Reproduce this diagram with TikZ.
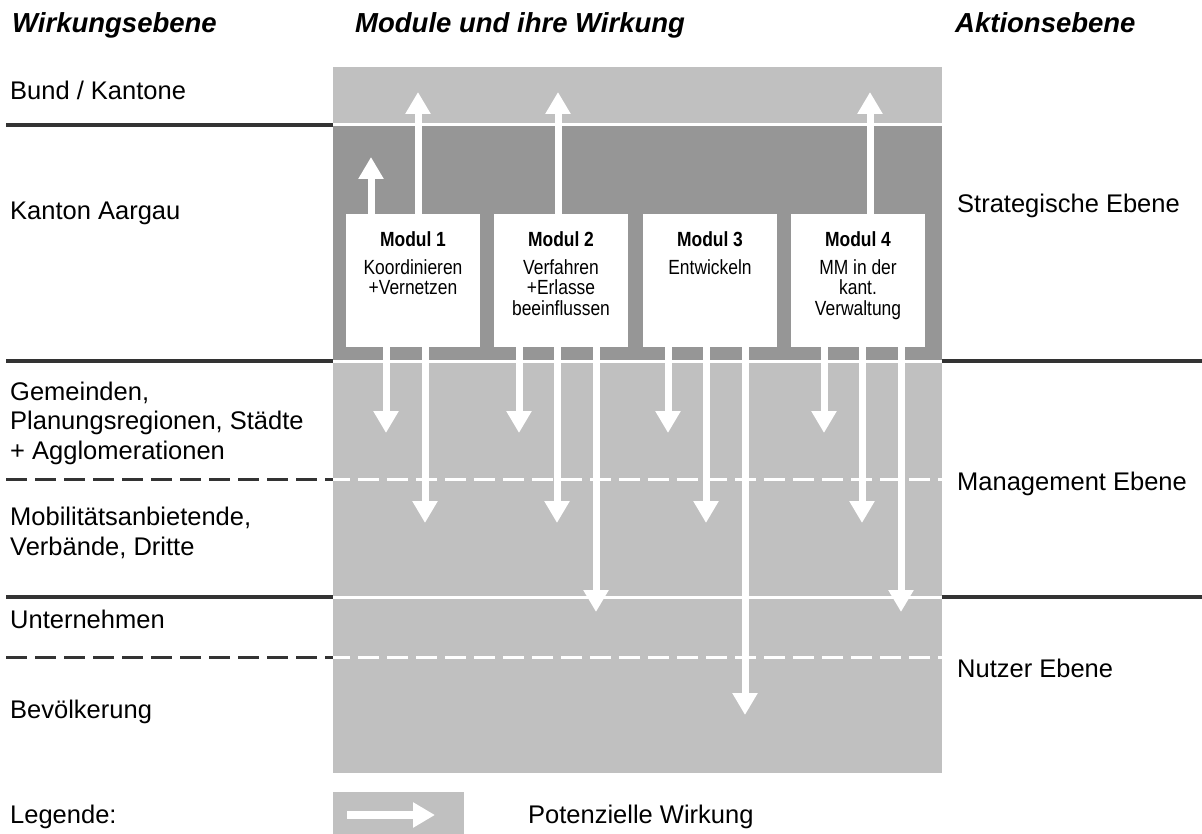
\documentclass[tikz,border=0pt]{standalone}
\usepackage{fontspec}
\setmainfont{Liberation Sans}
\newfontfamily\narrowfont[FakeStretch=0.85]{Liberation Sans}
\usetikzlibrary{arrows.meta}
\definecolor{lightg}{HTML}{C0C0C0}
\definecolor{darkg}{HTML}{969696}
\definecolor{lineg}{HTML}{333333}
\tikzset{
  txt/.style={font=\fontsize{25.5}{29.8}\selectfont, inner sep=0pt, anchor=base west, align=left},
  head/.style={font=\fontsize{27.5}{32}\selectfont\bfseries\itshape, inner sep=0pt, anchor=base west},
  modbox/.style={fill=white, draw=none, minimum width=134pt, minimum height=133pt, inner sep=0pt},
  modtxt/.style={font=\narrowfont\fontsize{20.5}{20.7}\selectfont, align=center, inner sep=0pt, anchor=north},
  warrow/.style={draw=white, line width=7pt, -{Triangle[width=24pt,length=22pt]}},
  darkline/.style={draw=lineg, line width=4pt},
  whiteline/.style={draw=white, line width=3pt},
  dashpat/.style={dash pattern=on 21pt off 8pt}
}
\begin{document}
\begin{tikzpicture}[x=1pt,y=-1pt]
\useasboundingbox (0,0) rectangle (1202,834);
% panel
\fill[lightg] (333,67) rectangle (942,773);
\fill[darkg] (333,125) rectangle (942,361);
% white separators in panel
\draw[whiteline] (333,125) -- (942,125);
\draw[whiteline] (333,361) -- (942,361);
\draw[whiteline] (333,597) -- (942,597);
\draw[whiteline,dashpat,dash phase=4pt] (333,479) -- (942,479);
\draw[whiteline,dashpat,dash phase=4pt] (333,657) -- (942,657);
% dark separators outside
\draw[darkline] (6,125) -- (333,125);
\draw[darkline] (6,361) -- (333,361);
\draw[darkline] (6,597) -- (333,597);
\draw[darkline] (942,361) -- (1202,361);
\draw[darkline] (942,597) -- (1202,597);
\draw[darkline,line width=3pt,dashpat] (6,479) -- (333,479);
\draw[darkline,line width=3pt,dashpat] (6,657) -- (333,657);
% headings
\node[head] (h1) at (12,32.5) {Wirkungsebene};
\node[head] (h2) at (355,32.5) {Module und ihre Wirkung};
\node[head] (h3) at (955,32.5) {Aktionsebene};
% left labels (base anchor = last line)
\node[txt] (l1) at (10,100) {Bund / Kantone};
\node[txt] (l2) at (10,220) {Kanton Aargau};
\node[txt] (l3) at (10,459.6) {Gemeinden,\\Planungsregionen, Städte\\+ Agglomerationen};
\node[txt] (l4) at (10,555) {Mobilitätsanbietende,\\Verbände, Dritte};
\node[txt] (l5) at (10,628) {Unternehmen};
\node[txt] (l6) at (10,718) {Bevölkerung};
\node[txt] (lg) at (10,823) {Legende:};
% right labels
\node[txt] (r1) at (957,213) {Strategische Ebene};
\node[txt] (r2) at (957,490) {Management Ebene};
\node[txt] (r3) at (957,677) {Nutzer Ebene};
% module boxes
\node[modbox] (m1) at (413,280.5) {};
\node[modbox] (m2) at (561,280.5) {};
\node[modbox] (m3) at (710,280.5) {};
\node[modbox] (m4) at (858,280.5) {};
\node[modtxt] (t1) at ([yshift=-17.5pt]m1.north) {\textbf{Modul 1}\\[7pt]Koordinieren\\+Vernetzen};
\node[modtxt] (t2) at ([yshift=-17.5pt]m2.north) {\textbf{Modul 2}\\[7pt]Verfahren\\+Erlasse\\beeinflussen};
\node[modtxt] (t3) at ([yshift=-17.5pt]m3.north) {\textbf{Modul 3}\\[7pt]Entwickeln};
\node[modtxt] (t4) at ([yshift=-17.5pt]m4.north) {\textbf{Modul 4}\\[7pt]MM in der\\kant.\\Verwaltung};
% arrow end points
\coordinate (u1) at (371,157);
\coordinate (u2) at (418,92);
\coordinate (u3) at (558,92);
\coordinate (u4) at (870,92);
\coordinate (d11) at (386,433);
\coordinate (d12) at (425,523);
\coordinate (d21) at (519,433);
\coordinate (d22) at (557,523);
\coordinate (d23) at (596,612);
\coordinate (d31) at (668,433);
\coordinate (d32) at (706,523);
\coordinate (d33) at (745,715);
\coordinate (d41) at (824,433);
\coordinate (d42) at (862,523);
\coordinate (d43) at (901,612);
% upward arrows
\draw[warrow] (u1 |- m1.north) -- (u1);
\draw[warrow] (u2 |- m1.north) -- (u2);
\draw[warrow] (u3 |- m2.north) -- (u3);
\draw[warrow] (u4 |- m4.north) -- (u4);
% downward arrows
\draw[warrow] (d11 |- m1.south) -- (d11);
\draw[warrow] (d12 |- m1.south) -- (d12);
\draw[warrow] (d21 |- m2.south) -- (d21);
\draw[warrow] (d22 |- m2.south) -- (d22);
\draw[warrow] (d23 |- m2.south) -- (d23);
\draw[warrow] (d31 |- m3.south) -- (d31);
\draw[warrow] (d32 |- m3.south) -- (d32);
\draw[warrow] (d33 |- m3.south) -- (d33);
\draw[warrow] (d41 |- m4.south) -- (d41);
\draw[warrow] (d42 |- m4.south) -- (d42);
\draw[warrow] (d43 |- m4.south) -- (d43);
% legend
\node[fill=lightg, minimum width=131pt, minimum height=42pt, inner sep=0pt, anchor=north west] (leg) at (333,792) {};
\coordinate (la) at (347,815);
\coordinate (lb) at (435,815);
\draw[warrow, line width=8pt] (la) -- (lb);
\node[txt] (lt) at (528,823) {Potenzielle Wirkung};
\end{tikzpicture}
\end{document}
